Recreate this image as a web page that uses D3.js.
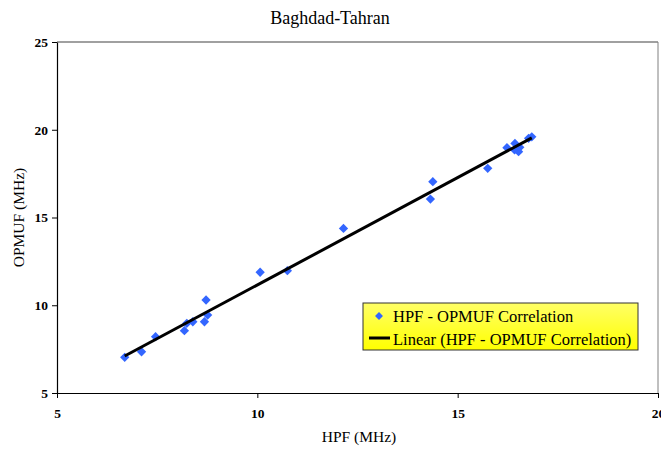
<!DOCTYPE html>
<html><head><meta charset="utf-8">
<script src="https://cdn.jsdelivr.net/npm/d3@7"></script>
<style>body{margin:0;background:#fff}svg{display:block}text{font-family:"Liberation Serif","Times New Roman",Times,"DejaVu Serif",serif}</style>
</head><body>
<script>
const title = "Baghdad-Tahran";
const xLabel = "HPF (MHz)";
const yLabel = "OPMUF (MHz)";
const hpf =   [6.69, 7.11, 7.46, 8.18, 8.24, 8.39, 8.68, 8.72, 8.76, 10.07, 10.75, 12.15, 14.32, 14.38, 15.75, 16.23, 16.43, 16.42, 16.52, 16.55, 16.77, 16.85];
const opmuf = [7.03, 7.35, 8.21, 8.55, 8.97, 9.06, 9.06, 10.30, 9.44, 11.88, 11.97, 14.38, 16.05, 17.04, 17.80, 18.98, 19.22, 18.85, 18.75, 19.00, 19.51, 19.60];
const xTicks = [5, 10, 15, 20];
const yTicks = [5, 10, 15, 20, 25];
const seriesName = "HPF - OPMUF Correlation";
const trendName = "Linear (HPF - OPMUF Correlation)";

const W = 661, H = 450;
const m = {left: 57, right: 3, top: 42, bottom: 57};
const svg = d3.select("body").append("svg").attr("width", W).attr("height", H);
const x = d3.scaleLinear().domain([5, 20]).range([m.left, W - m.right]);
const y = d3.scaleLinear().domain([5, 25]).range([H - m.bottom, m.top]);

svg.append("line").attr("x1", x(5)).attr("x2", x(20)).attr("y1", y(25)).attr("y2", y(25)).attr("stroke", "#808080").attr("stroke-width", 1.5);
svg.append("line").attr("x1", x(20)).attr("x2", x(20)).attr("y1", y(25)).attr("y2", y(5)).attr("stroke", "#808080").attr("stroke-width", 1);

const xAxis = svg.append("g").attr("transform", `translate(0,${y(5)})`)
  .call(d3.axisBottom(x).tickValues(xTicks).tickSize(5).tickSizeOuter(0).tickFormat(d3.format("d")));
const yAxis = svg.append("g").attr("transform", `translate(${x(5)},0)`)
  .call(d3.axisLeft(y).tickValues(yTicks).tickSize(5).tickSizeOuter(0).tickFormat(d3.format("d")));
[xAxis, yAxis].forEach(g => {
  g.attr("font-family", null);
  g.select(".domain").attr("stroke", "#000").attr("stroke-width", 1.2);
  g.selectAll(".tick line").attr("stroke", "#000");
  g.selectAll(".tick text").attr("font-size", 13.5).attr("font-weight", "bold").attr("fill", "#000");
});
xAxis.selectAll(".tick text").attr("dy", "1.25em");
yAxis.selectAll(".tick text").attr("x", -9);

const n = hpf.length;
const mx = d3.mean(hpf), my = d3.mean(opmuf);
let sxy = 0, sxx = 0;
for (let i = 0; i < n; i++) { sxy += (hpf[i]-mx)*(opmuf[i]-my); sxx += (hpf[i]-mx)**2; }
const slope = sxy / sxx, intercept = my - slope * mx;
const [xmin, xmax] = d3.extent(hpf);

const sym = d3.symbolDiamond2 || d3.symbolDiamond;
svg.append("g").selectAll("path").data(hpf.map((v, i) => [v, opmuf[i]])).join("path")
  .attr("d", d3.symbol(sym, 55))
  .attr("transform", d => `translate(${x(d[0])},${y(d[1])})`)
  .attr("fill", "#3366FF");

svg.append("line")
  .attr("x1", x(xmin)).attr("y1", y(slope*xmin+intercept))
  .attr("x2", x(xmax)).attr("y2", y(slope*xmax+intercept))
  .attr("stroke", "#000").attr("stroke-width", 3);

svg.append("text").attr("x", 330).attr("y", 24).attr("text-anchor", "middle")
  .attr("font-size", 18).text(title);
svg.append("text").attr("x", 359).attr("y", 442).attr("text-anchor", "middle")
  .attr("font-size", 15.5).text(xLabel);
svg.append("text").attr("transform", `translate(24,${y(15)}) rotate(-90)`).attr("text-anchor", "middle")
  .attr("font-size", 15.5).text(yLabel);

const grad = svg.append("defs").append("linearGradient").attr("id", "lgfill").attr("x1", 0).attr("x2", 0).attr("y1", 0).attr("y2", 1);
grad.append("stop").attr("offset", 0).attr("stop-color", "#FFFF66");
grad.append("stop").attr("offset", 1).attr("stop-color", "#FFFF00");

const lg = svg.append("g").attr("transform", "translate(363,303)");
lg.append("rect").attr("width", 275).attr("height", 47).attr("fill", "url(#lgfill)").attr("stroke", "#333").attr("stroke-width", 1);
lg.append("path").attr("d", d3.symbol(sym, 40)).attr("transform", "translate(16,13)").attr("fill", "#3366FF");
lg.append("text").attr("x", 30).attr("y", 19).attr("font-size", 16.5).text(seriesName);
lg.append("line").attr("x1", 6).attr("x2", 27).attr("y1", 35).attr("y2", 35).attr("stroke", "#000").attr("stroke-width", 3);
lg.append("text").attr("x", 30).attr("y", 42).attr("font-size", 16.5).text(trendName);
</script>
</body></html>
